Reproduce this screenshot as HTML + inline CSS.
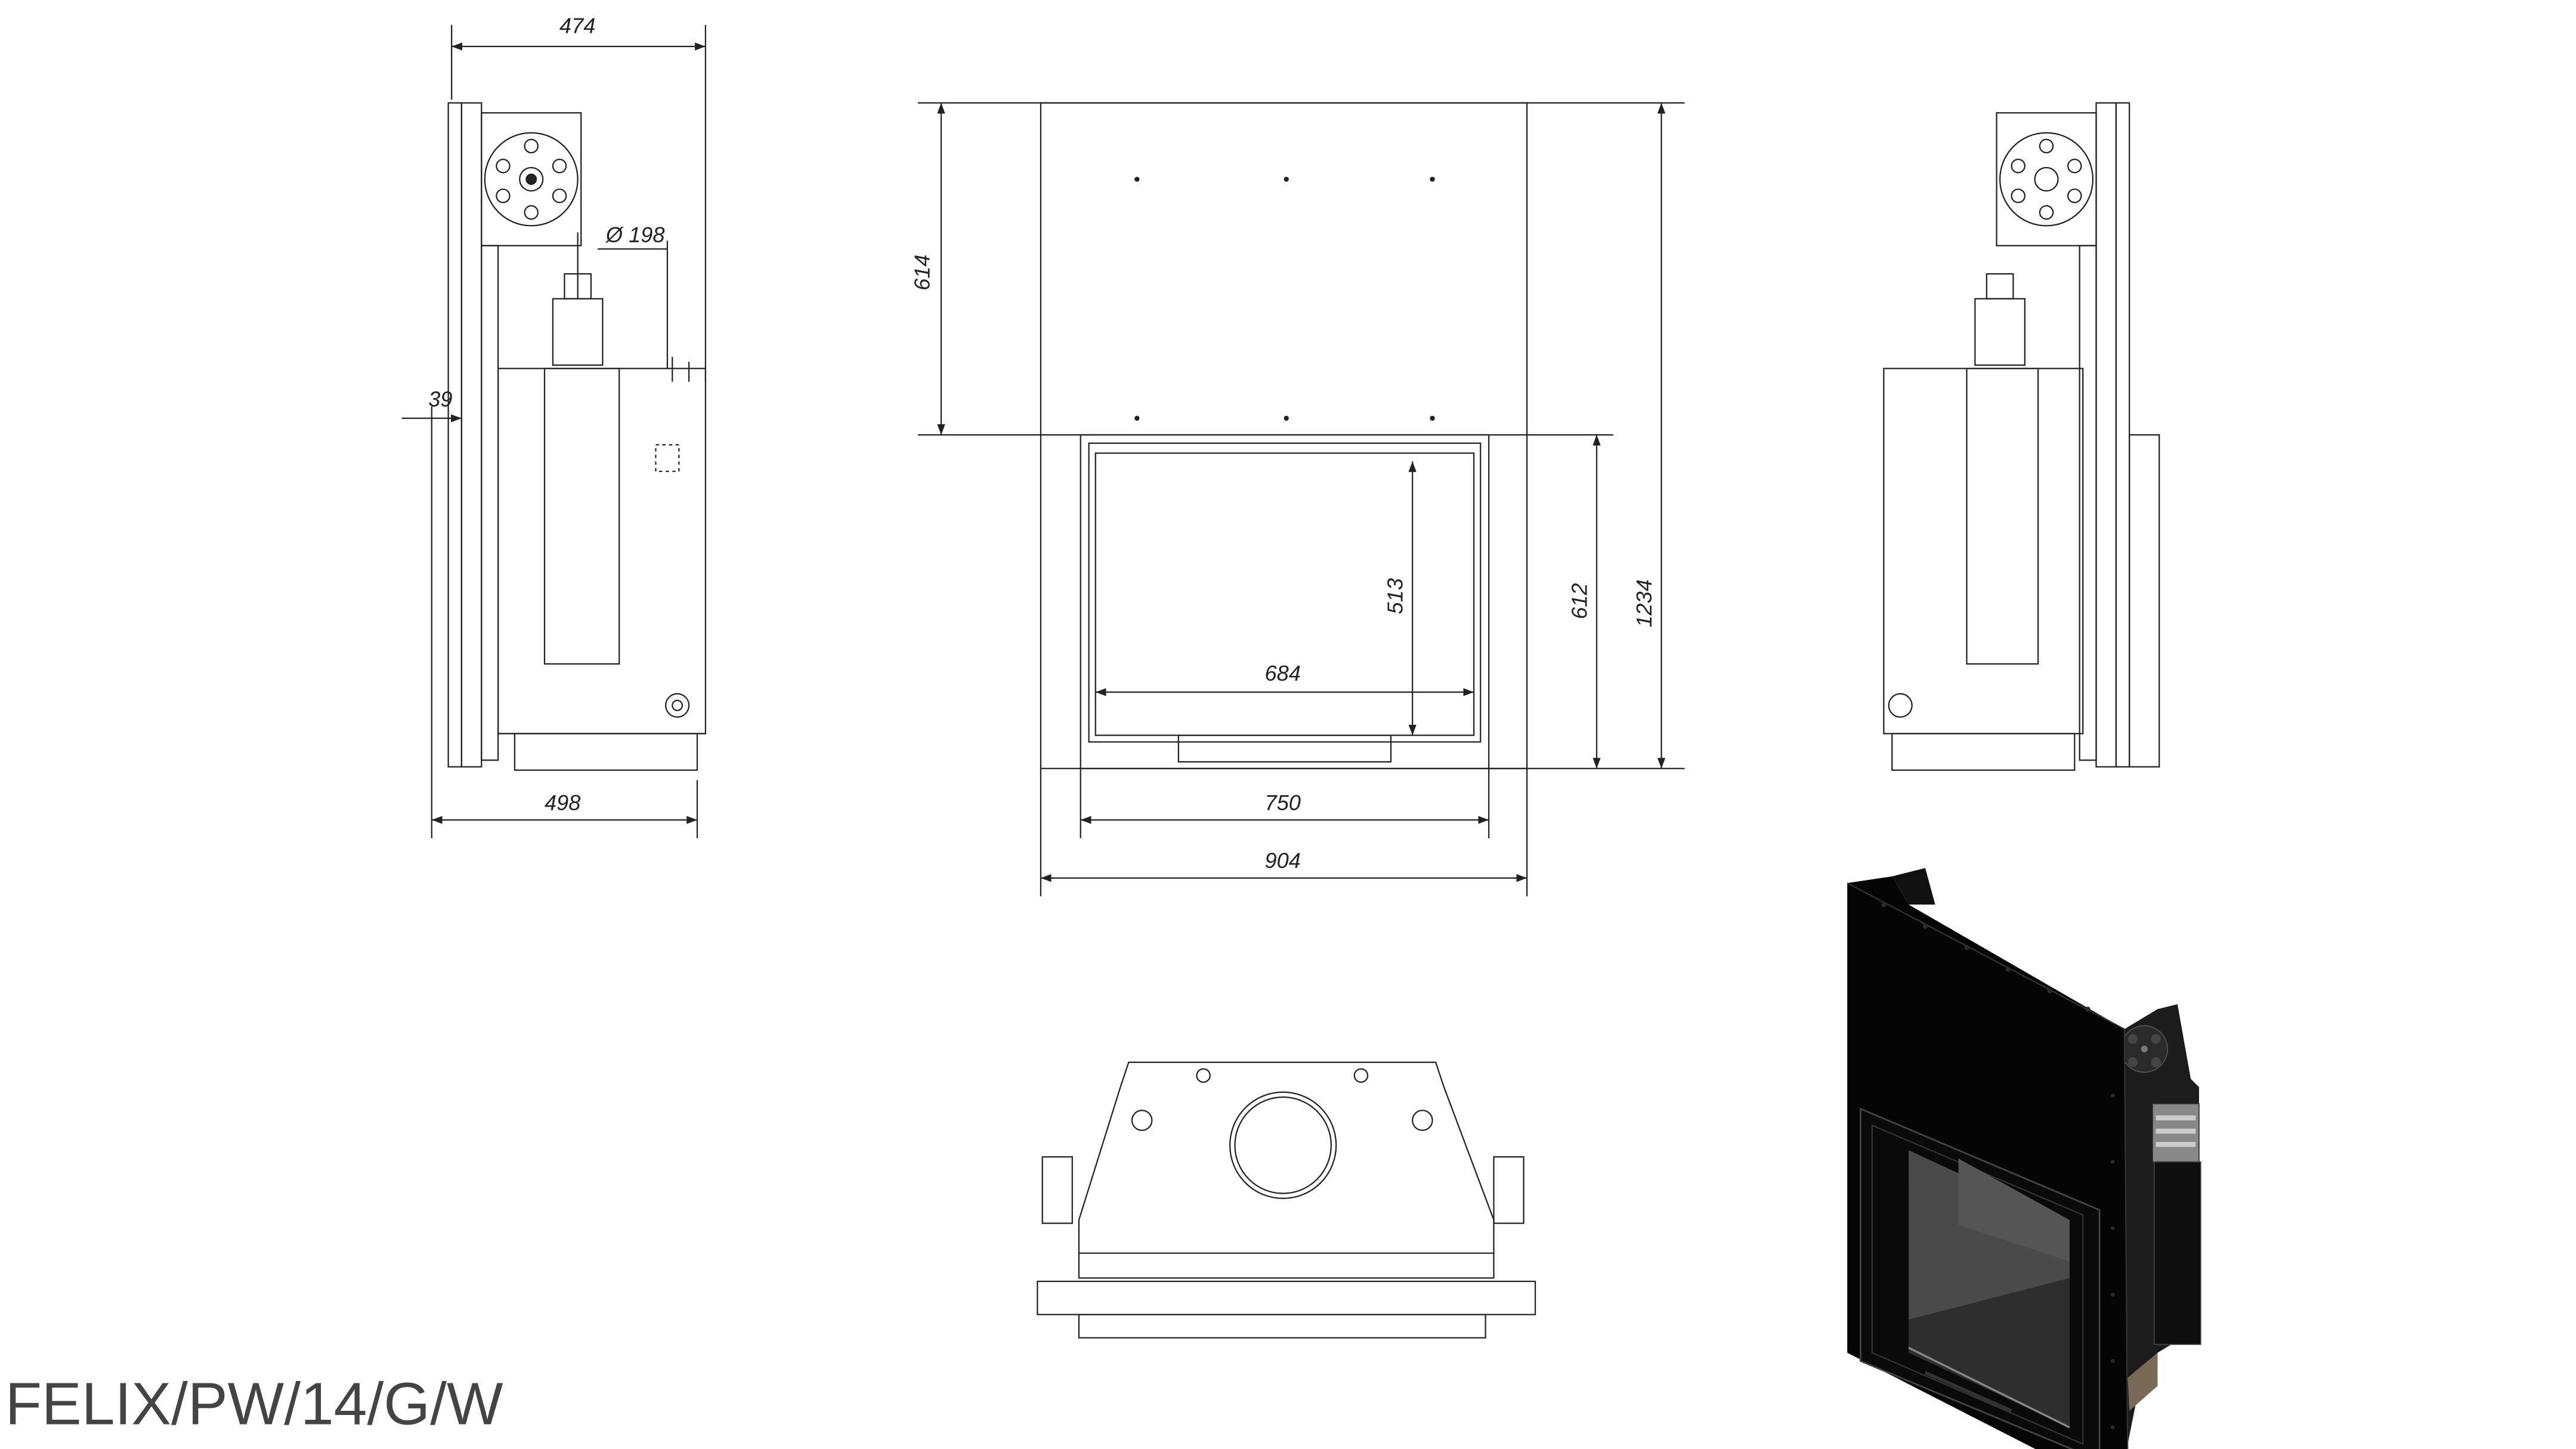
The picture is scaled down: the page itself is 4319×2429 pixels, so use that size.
<!DOCTYPE html>
<html><head><meta charset="utf-8"><style>
html,body{margin:0;padding:0;background:#fff;width:4319px;height:2429px;overflow:hidden}
svg{display:block}
text{font-family:"Liberation Sans",sans-serif;font-style:italic;font-size:13px;fill:#222}
</style></head><body>
<svg width="4319" height="2429" viewBox="0 0 1552 873" xmlns="http://www.w3.org/2000/svg">
<defs>
<marker id="a" markerWidth="8" markerHeight="6" refX="8" refY="3" orient="auto-start-reverse"><path d="M0,0 L8,3 L0,6 z" fill="#222"/></marker>
</defs>
<g fill="none" stroke="#222" stroke-width="0.8">
<!-- LEFT SIDE VIEW -->
<line x1="272" y1="15" x2="272" y2="60"/><line x1="425" y1="15" x2="425" y2="230"/>
<line x1="272" y1="28" x2="425" y2="28" marker-start="url(#a)" marker-end="url(#a)"/>
<rect x="270" y="62" width="8" height="400"/><rect x="278" y="62" width="12" height="400"/>
<rect x="290" y="68" width="60" height="80"/>
<circle cx="320" cy="108" r="28"/><circle cx="320" cy="108" r="7"/><circle cx="320" cy="108" r="3" fill="#222"/>
<circle cx="303" cy="100" r="4"/><circle cx="337" cy="100" r="4"/><circle cx="303" cy="118" r="4"/><circle cx="337" cy="118" r="4"/><circle cx="320" cy="88" r="4"/><circle cx="320" cy="128" r="4"/>
<line x1="348" y1="140" x2="348" y2="180"/>
<rect x="333" y="180" width="30" height="40"/><rect x="340" y="165" width="16" height="15"/>
<rect x="290" y="148" width="10" height="310"/>
<rect x="300" y="222" width="125" height="220"/>
<rect x="328" y="222" width="45" height="178"/>
<rect x="395" y="268" width="14" height="16" stroke-dasharray="2,2"/>
<line x1="300" y1="442" x2="425" y2="442"/>
<rect x="310" y="442" width="110" height="22"/>
<circle cx="408" cy="425" r="7"/><circle cx="408" cy="425" r="3"/>
<line x1="360" y1="150" x2="402" y2="150"/><line x1="402" y1="145" x2="402" y2="222"/>
<line x1="405" y1="215" x2="405" y2="230"/><line x1="415" y1="218" x2="415" y2="230"/>
<line x1="242" y1="252" x2="278" y2="252" marker-end="url(#a)"/>
<line x1="260" y1="245" x2="260" y2="505"/><line x1="420" y1="470" x2="420" y2="505"/>
<line x1="260" y1="494" x2="420" y2="494" marker-start="url(#a)" marker-end="url(#a)"/>
<!-- FRONT VIEW -->
<rect x="627" y="62" width="293" height="401"/>
<line x1="553" y1="62" x2="1015" y2="62"/><line x1="553" y1="262" x2="972" y2="262"/>
<line x1="567" y1="62" x2="567" y2="262" marker-start="url(#a)" marker-end="url(#a)"/>
<rect x="651" y="262" width="246" height="201"/>
<rect x="656" y="267" width="236" height="180"/>
<rect x="660" y="273" width="228" height="170"/>
<rect x="710" y="443" width="128" height="16"/>
<line x1="660" y1="417" x2="888" y2="417" marker-start="url(#a)" marker-end="url(#a)"/>
<line x1="851" y1="278" x2="851" y2="443" marker-start="url(#a)" marker-end="url(#a)"/>
<line x1="897" y1="463" x2="1015" y2="463"/>
<line x1="962" y1="262" x2="962" y2="463" marker-start="url(#a)" marker-end="url(#a)"/>
<line x1="1001" y1="62" x2="1001" y2="463" marker-start="url(#a)" marker-end="url(#a)"/>
<line x1="651" y1="463" x2="651" y2="505"/><line x1="897" y1="463" x2="897" y2="505"/>
<line x1="651" y1="494" x2="897" y2="494" marker-start="url(#a)" marker-end="url(#a)"/>
<line x1="627" y1="463" x2="627" y2="540"/><line x1="920" y1="463" x2="920" y2="540"/>
<line x1="627" y1="529" x2="920" y2="529" marker-start="url(#a)" marker-end="url(#a)"/>
<!-- RIGHT SIDE VIEW -->
<rect x="1275" y="62" width="8" height="400"/><rect x="1263" y="62" width="12" height="400"/>
<rect x="1203" y="68" width="60" height="80"/>
<circle cx="1233" cy="108" r="28"/><circle cx="1233" cy="108" r="7"/>
<circle cx="1216" cy="100" r="4"/><circle cx="1250" cy="100" r="4"/><circle cx="1216" cy="118" r="4"/><circle cx="1250" cy="118" r="4"/><circle cx="1233" cy="88" r="4"/><circle cx="1233" cy="128" r="4"/>
<rect x="1190" y="180" width="30" height="40"/><rect x="1197" y="165" width="16" height="15"/>
<rect x="1253" y="148" width="10" height="310"/>
<rect x="1135" y="222" width="120" height="220"/>
<rect x="1185" y="222" width="43" height="178"/>
<rect x="1283" y="262" width="18" height="200"/>
<circle cx="1145" cy="425" r="7"/>
<rect x="1140" y="442" width="110" height="22"/>
<!-- TOP VIEW -->
<path d="M680,640 L865,640 L870,655 L900,735 L900,770 L650,770 L650,735 L675,655 Z"/>
<circle cx="773" cy="690" r="32"/><circle cx="773" cy="690" r="29"/>
<circle cx="688" cy="675" r="6"/><circle cx="857" cy="675" r="6"/><circle cx="725" cy="648" r="4"/><circle cx="820" cy="648" r="4"/>
<rect x="625" y="772" width="300" height="20"/><rect x="650" y="792" width="245" height="14"/>
<rect x="628" y="697" width="18" height="40"/><rect x="900" y="697" width="18" height="40"/>
<line x1="650" y1="755" x2="900" y2="755"/>
</g>
<g fill="#222">
<circle cx="685" cy="108" r="1.5"/><circle cx="775" cy="108" r="1.5"/><circle cx="863" cy="108" r="1.5"/>
<circle cx="685" cy="252" r="1.5"/><circle cx="775" cy="252" r="1.5"/><circle cx="863" cy="252" r="1.5"/>
</g>
<text x="337" y="20">474</text><text x="258" y="245">39</text><text x="365" y="146">Ø 198</text><text x="328" y="488">498</text>
<text x="762" y="410">684</text><text x="762" y="488">750</text><text x="762" y="523">904</text>
<text transform="translate(560,175) rotate(-90)">614</text>
<text transform="translate(845,370) rotate(-90)">513</text>
<text transform="translate(956,373) rotate(-90)">612</text>
<text transform="translate(995,378) rotate(-90)">1234</text>
<!-- 3D render -->
<polygon points="1140,528 1160,523 1166,545 1150,545" fill="#111"/>
<polygon points="1280,620 1300,608 1312,605 1320,650 1325,655 1325,800 1300,815 1290,830 1282,870" fill="#1c1c1c"/>
<circle cx="1292" cy="632" r="14" fill="#2a2a2a" stroke="#555" stroke-width="0.6"/>
<circle cx="1292" cy="632" r="2" fill="#777"/>
<circle cx="1285" cy="626" r="3" fill="#444"/><circle cx="1299" cy="626" r="3" fill="#444"/><circle cx="1285" cy="640" r="3" fill="#444"/><circle cx="1299" cy="640" r="3" fill="#444"/>
<rect x="1297" y="665" width="28" height="35" fill="#888" stroke="#333" stroke-width="0.6"/>
<rect x="1299" y="672" width="24" height="3" fill="#ccc"/>
<rect x="1299" y="680" width="24" height="3" fill="#ccc"/>
<rect x="1299" y="688" width="24" height="3" fill="#ccc"/>
<rect x="1298" y="700" width="28" height="110" fill="#0e0e0e" stroke="#444" stroke-width="0.6"/>
<polygon points="1282,830 1300,815 1300,835 1283,850" fill="#7a6a55"/>
<polygon points="1113,532 1140,528 1150,545 1280,620 1282,880 1240,880 1113,815" fill="#050505"/>
<line x1="1113" y1="532" x2="1280" y2="620" stroke="#333" stroke-width="0.8"/>
<line x1="1280" y1="620" x2="1282" y2="880" stroke="#333" stroke-width="0.8"/>
<g fill="#2a2a2a">
<circle cx="1135" cy="545" r="1.5"/><circle cx="1160" cy="558" r="1.5"/><circle cx="1185" cy="571" r="1.5"/><circle cx="1210" cy="584" r="1.5"/><circle cx="1235" cy="597" r="1.5"/><circle cx="1258" cy="608" r="1.5"/>
<circle cx="1273" cy="660" r="1.2"/><circle cx="1273" cy="700" r="1.2"/><circle cx="1273" cy="740" r="1.2"/><circle cx="1273" cy="780" r="1.2"/><circle cx="1273" cy="820" r="1.2"/><circle cx="1273" cy="860" r="1.2"/>
</g>
<polygon points="1121,668 1265,729 1265,880 1121,820" fill="#0a0a0a" stroke="#444" stroke-width="1"/>
<polygon points="1128,678 1255,732 1255,870 1128,815" fill="none" stroke="#333" stroke-width="0.8"/>
<polygon points="1150,693 1247,738 1247,860 1150,812" fill="#4a4a4a"/>
<polygon points="1180,698 1247,735 1247,760 1180,738" fill="#555"/>
<polygon points="1150,795 1247,770 1247,860 1150,815" fill="#2e2e2e"/>
<line x1="1150" y1="812" x2="1247" y2="860" stroke="#888" stroke-width="1.2"/>
<line x1="1160" y1="827" x2="1212" y2="850" stroke="#333" stroke-width="2"/>
<text x="3" y="858" style="font-style:normal;font-size:36px;fill:#444">FELIX/PW/14/G/W</text>
</svg>
</body></html>
